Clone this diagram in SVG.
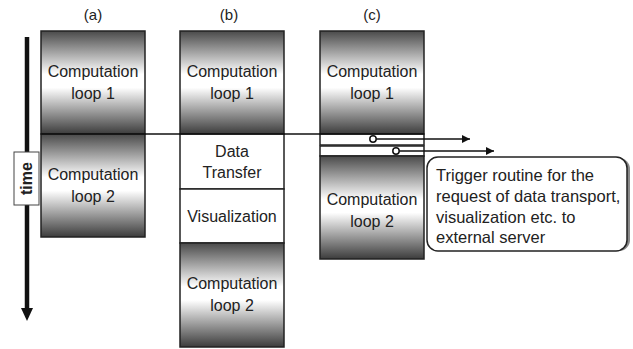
<svg xmlns="http://www.w3.org/2000/svg" width="633" height="349" viewBox="0 0 633 349">
  <defs>
    <linearGradient id="loopGrad" x1="0" y1="0" x2="0" y2="1">
      <stop offset="0" stop-color="#4a4a4a"/>
      <stop offset="0.42" stop-color="#ffffff"/>
      <stop offset="0.55" stop-color="#ffffff"/>
      <stop offset="1" stop-color="#3c3c3c"/>
    </linearGradient>
    <marker id="arrow" viewBox="0 0 10 10" refX="10" refY="5" markerWidth="11" markerHeight="8" markerUnits="userSpaceOnUse" orient="auto">
      <path d="M0,0 L10,5 L0,10 Z" fill="#111"/>
    </marker>
  </defs>
  <style>
    .loop { fill: url(#loopGrad); stroke: #222; stroke-width: 1.5; }
    .plain { fill: #fff; stroke: #222; stroke-width: 1.5; }
    .lbl { font-family: "Liberation Sans", Arial, sans-serif; font-size: 16px; fill: #222; text-anchor: middle; }
    .head { font-family: "Liberation Sans", Arial, sans-serif; font-size: 15px; fill: #222; text-anchor: middle; }
    .note { font-family: "Liberation Sans", Arial, sans-serif; font-size: 16.5px; fill: #222; }
    .conn { stroke: #111; stroke-width: 1.6; fill: none; }
  </style>
  <rect width="633" height="349" fill="#fff"/>

  <g id="headings">
    <text class="head" x="93" y="20">(a)</text>
    <text class="head" x="229" y="20">(b)</text>
    <text class="head" x="372" y="20">(c)</text>
  </g>

  <g id="time-axis">
    <line x1="27" y1="37" x2="27" y2="309" stroke="#111" stroke-width="4.5"/>
    <path d="M21,308 L33,308 L27,321 Z" fill="#111"/>
    <rect x="14" y="152" width="25" height="53" fill="#fff" stroke="#444" stroke-width="1"/>
    <text class="lbl" transform="translate(32,178.5) rotate(-90)" font-weight="bold" font-size="17">time</text>
  </g>

  <g id="a-loop1">
    <rect class="loop" x="41" y="31" width="104" height="103"/>
    <text class="lbl" x="93" y="77">Computation</text>
    <text class="lbl" x="93" y="99">loop 1</text>
  </g>
  <g id="a-loop2">
    <rect class="loop" x="41" y="134" width="104" height="103"/>
    <text class="lbl" x="93" y="180">Computation</text>
    <text class="lbl" x="93" y="202">loop 2</text>
  </g>

  <g id="b-loop1">
    <rect class="loop" x="180" y="31" width="104" height="103"/>
    <text class="lbl" x="232" y="77">Computation</text>
    <text class="lbl" x="232" y="99">loop 1</text>
  </g>
  <g id="b-transfer">
    <rect class="plain" x="180" y="134" width="104" height="55"/>
    <text class="lbl" x="232" y="157">Data</text>
    <text class="lbl" x="232" y="178">Transfer</text>
  </g>
  <g id="b-visualization">
    <rect class="plain" x="180" y="189" width="104" height="54"/>
    <text class="lbl" x="232" y="222">Visualization</text>
  </g>
  <g id="b-loop2">
    <rect class="loop" x="180" y="243" width="104" height="104"/>
    <text class="lbl" x="232" y="289">Computation</text>
    <text class="lbl" x="232" y="311">loop 2</text>
  </g>

  <g id="c-loop1">
    <rect class="loop" x="320" y="31" width="104" height="103"/>
    <text class="lbl" x="372" y="77">Computation</text>
    <text class="lbl" x="372" y="99">loop 1</text>
  </g>
  <g id="c-trigger1">
    <rect class="plain" x="320" y="134" width="104" height="11"/>
  </g>
  <g id="c-trigger2">
    <rect class="plain" x="320" y="146" width="104" height="10"/>
  </g>
  <g id="c-loop2">
    <rect class="loop" x="320" y="156" width="104" height="103"/>
    <text class="lbl" x="372" y="205">Computation</text>
    <text class="lbl" x="372" y="227">loop 2</text>
  </g>

  <g id="callout">
    <rect x="429" y="158" width="201" height="93" rx="11" fill="#888"/>
    <rect x="427" y="157" width="200" height="94" rx="11" fill="#fff" stroke="#222" stroke-width="1.5"/>
    <text class="note" x="436" y="181">Trigger routine for the</text>
    <text class="note" x="436" y="202">request of data transport,</text>
    <text class="note" x="436" y="223">visualization etc. to</text>
    <text class="note" x="436" y="243">external server</text>
  </g>

  <g id="connectors">
    <line class="conn" x1="41" y1="134" x2="424" y2="134"/>
    <line class="conn" x1="376" y1="139" x2="470" y2="139" marker-end="url(#arrow)"/>
    <circle cx="373" cy="139" r="3.2" fill="#fff" stroke="#111" stroke-width="1.5"/>
    <line class="conn" x1="399" y1="151" x2="494" y2="151" marker-end="url(#arrow)"/>
    <circle cx="396" cy="151" r="3.2" fill="#fff" stroke="#111" stroke-width="1.5"/>
  </g>
</svg>
